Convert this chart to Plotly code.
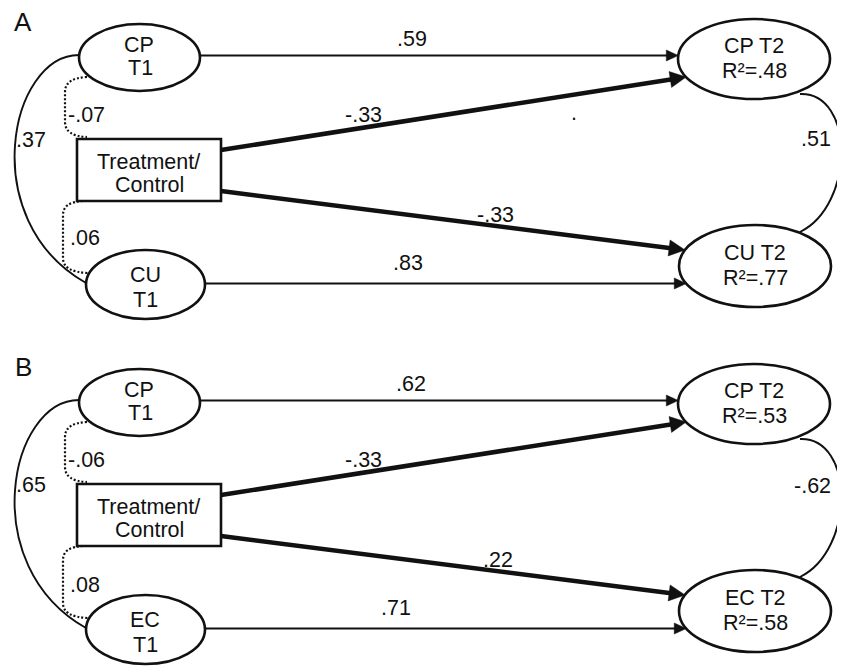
import math
import plotly.graph_objects as go

# ---------------- data (path model coefficients) ----------------
panels = ["A", "B"]
second_construct = ["CU", "EC"]
cp_stability = [0.59, 0.62]          # CP T1 -> CP T2
treat_to_cp = [-0.33, -0.33]         # Treatment/Control -> CP T2
treat_to_second = [-0.33, 0.22]      # Treatment/Control -> CU/EC T2
second_stability = [0.83, 0.71]      # CU/EC T1 -> CU/EC T2
t1_covariance = [0.37, 0.65]         # CP T1 <-> CU/EC T1
treat_cp_cov = [-0.07, -0.06]        # Treatment <-> CP T1
treat_second_cov = [0.06, 0.08]      # Treatment <-> CU/EC T1
t2_residual_cov = [0.51, -0.62]      # CP T2 <-> CU/EC T2
r2_cp = [0.48, 0.53]
r2_second = [0.77, 0.58]


def fmt(v):
    return f"{v:.2f}".replace("0.", ".", 1)


# ---------------- layout / styling ----------------
W, H = 845, 666
BODY_MARGIN = 8          # default page margin around the plot div
FONT = "Liberation Sans, Arial, sans-serif"
FS = 21.5
INK = "#111111"
PANEL_DY = [0, 345]
# per-panel label anchor positions (x, y) in panel-A coordinates
POS_CP_STAB = [(412, 39), (411, 39)]
POS_TREAT_CP = [(363, 114.5), (363, 115)]
POS_TREAT_SEC = [(495, 214.5), (498, 215)]
POS_SEC_STAB = [(408, 263), (396, 263)]
POS_T2COV_Y = [139, 141]
POS_TSC_Y = [238, 240]

shapes = []
annotations = []


def text(x, y, s, size=FS, xanchor="center"):
    annotations.append(dict(x=x, y=y, xref="x", yref="y", text=s, showarrow=False,
                            xanchor=xanchor, yanchor="middle",
                            font=dict(family=FONT, size=size, color=INK)))


def ellipse(x0, x1, y0, y1):
    shapes.append(dict(type="circle", xref="x", yref="y", x0=x0, x1=x1, y0=y0, y1=y1,
                       line=dict(color=INK, width=2.6), fillcolor="white", layer="above"))


def path(d, width=1.8, dash="solid"):
    shapes.append(dict(type="path", xref="x", yref="y", path=d,
                       line=dict(color=INK, width=width, dash=dash)))


def arrow(x0, y0, x1, y1, width, hl, hw):
    dx, dy = x1 - x0, y1 - y0
    L = math.hypot(dx, dy)
    ux, uy = dx / L, dy / L
    nx, ny = -uy, ux
    bx, by = x1 - ux * hl, y1 - uy * hl
    shapes.append(dict(type="line", xref="x", yref="y", x0=x0, y0=y0,
                       x1=bx + ux * 2, y1=by + uy * 2,
                       line=dict(color=INK, width=width)))
    d = (f"M {x1:.2f} {y1:.2f} L {bx + nx * hw:.2f} {by + ny * hw:.2f} "
         f"L {bx - nx * hw:.2f} {by - ny * hw:.2f} Z")
    shapes.append(dict(type="path", xref="x", yref="y", path=d,
                       line=dict(color=INK, width=0.5), fillcolor=INK))


def ellipse_left_x(cx, cy, rx, ry, y):
    t = (y - cy) / ry
    return cx - rx * math.sqrt(max(0.0, 1 - t * t))


for i, p in enumerate(panels):
    o = PANEL_DY[i]
    sec = second_construct[i]

    # panel letter
    text(23, 21.5 + o, p, size=26)

    # covariance / correlation curves
    path(f"M 79 {55+o} C 10 {55+o}, -25 {220+o}, 86 {283+o}", width=1.9)
    path(f"M 87 {77+o} Q 65 {78+o} 65 {92+o} L 65 {122+o} Q 65 {136+o} 87 {137+o}",
         width=2.2, dash="2px,2px")
    path(f"M 83 {201+o} Q 63 {202+o} 63 {215+o} L 63 {258+o} Q 63 {272+o} 88 {273+o}",
         width=2.2, dash="2px,2px")
    path(f"M 800 {94+o} C 855 {92+o}, 855 {205+o}, 800 {232+o}", width=1.9)

    # right-hand ellipse geometry
    cp2 = (754, 59 + o, 76, 40)
    se2 = (755, 266 + o, 76, 41)

    # thin stability arrows
    y_top = 55.5 + o
    arrow(200, y_top, ellipse_left_x(*cp2, y_top), y_top, 1.9, 12, 5.5)
    y_bot = 283.5 + o
    arrow(205, y_bot, ellipse_left_x(*se2, y_bot), y_bot, 1.9, 12, 5.5)

    # thick treatment arrows
    y_t1 = 77 + o
    arrow(221, 150 + o, ellipse_left_x(*cp2, y_t1), y_t1, 4.6, 16, 8)
    y_t2 = 250 + o
    arrow(221, 191 + o, ellipse_left_x(*se2, y_t2), y_t2, 4.6, 16, 8)

    # nodes
    ellipse(79, 200, 24 + o, 91 + o)
    ellipse(86, 205, 250 + o, 319 + o)
    ellipse(678, 830, 19 + o, 99 + o)
    ellipse(679, 831, 225 + o, 307 + o)
    shapes.append(dict(type="rect", xref="x", yref="y", x0=77, x1=221, y0=139 + o, y1=201 + o,
                       line=dict(color=INK, width=2.6), fillcolor="white", layer="above"))

    # node labels
    text(139, 44.5 + o, "CP")
    text(140, 67.5 + o, "T1")
    text(145, 274.5 + o, sec)
    text(145, 300 + o, "T1")
    text(148, 161.5 + o, "Treatment/")
    text(149, 185 + o, "Control")
    text(754, 46 + o, "CP T2")
    text(754, 70.5 + o, f"R²={fmt(r2_cp[i])}")
    text(755, 252.5 + o, f"{sec} T2")
    text(755, 277.5 + o, f"R²={fmt(r2_second[i])}")

    # coefficient labels
    x, y = POS_CP_STAB[i]
    text(x, y + o, fmt(cp_stability[i]))
    x, y = POS_TREAT_CP[i]
    text(x, y + o, fmt(treat_to_cp[i]))
    x, y = POS_TREAT_SEC[i]
    text(x, y + o, fmt(treat_to_second[i]))
    x, y = POS_SEC_STAB[i]
    text(x, y + o, fmt(second_stability[i]))
    text(14, 140 + o, fmt(t1_covariance[i]), xanchor="left")
    text(66, 115 + o, fmt(treat_cp_cov[i]), xanchor="left")
    text(68, POS_TSC_Y[i] + o, fmt(treat_second_cov[i]), xanchor="left")
    text(833, POS_T2COV_Y[i] + o, fmt(t2_residual_cov[i]), xanchor="right")

# stray dot present in the original panel A
text(574, 113, ".")

fig = go.Figure()
fig.update_layout(
    width=W - BODY_MARGIN, height=H - BODY_MARGIN,
    margin=dict(l=0, r=0, t=0, b=0),
    paper_bgcolor="white", plot_bgcolor="white",
    xaxis=dict(range=[BODY_MARGIN, W], visible=False, fixedrange=True),
    yaxis=dict(range=[H, BODY_MARGIN], visible=False, fixedrange=True),
    shapes=shapes, annotations=annotations, showlegend=False,
)
fig.write_html("out.html")
